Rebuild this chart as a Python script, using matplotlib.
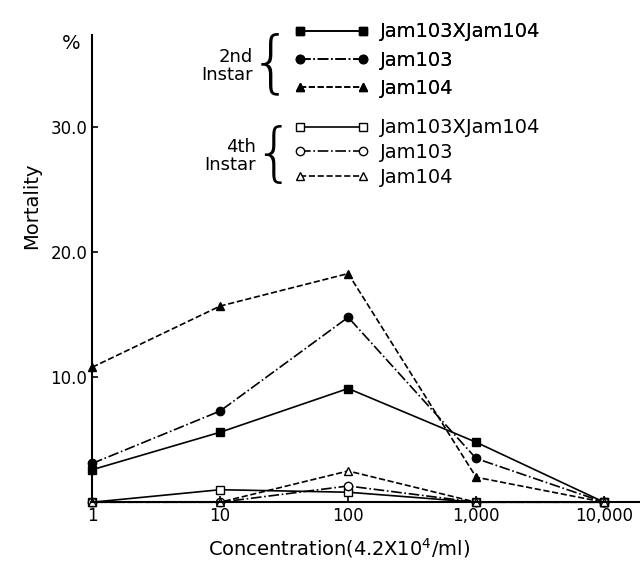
import matplotlib.pyplot as plt

# concentration (x 4.2x10^4 /ml) and mortality (%)
conc = [1, 10, 100, 1000, 10000]
conc_labels = ['1', '10', '100', '1,000', '10,000']

# 2nd instar
l2_cross = [2.6, 5.6, 9.1, 4.8, 0.0]
l2_jam103 = [3.1, 7.3, 14.8, 3.5, 0.0]
l2_jam104 = [10.8, 15.7, 18.3, 2.0, 0.0]

# 4th instar
l4_cross = [0.0, 1.0, 0.8, 0.0, 0.0]
l4_jam103 = [0.0, 0.0, 1.3, 0.0, 0.0]
l4_jam104 = [0.0, 0.0, 2.5, 0.0, 0.0]

y_ticks = [10, 20, 30]
y_tick_labels = ['10.0', '20.0', '30.0']

fig = plt.figure(figsize=(6.4, 5.72), dpi=100)
ax = fig.add_axes([0.144, 0.122, 0.856, 0.817])

kw = dict(color='black', lw=1.2, ms=6, clip_on=False)
h1, = ax.plot(conc, l2_cross, '-', marker='s', label='Jam103XJam104', **kw)
h2, = ax.plot(conc, l2_jam103, '-.', marker='o', label='Jam103', **kw)
h3, = ax.plot(conc, l2_jam104, '--', marker='^', label='Jam104', **kw)
h4, = ax.plot(conc, l4_cross, '-', marker='s', mfc='white', label='Jam103XJam104', **kw)
h5, = ax.plot(conc, l4_jam103, '-.', marker='o', mfc='white', label='Jam103', **kw)
h6, = ax.plot(conc, l4_jam104, '--', marker='^', mfc='white', label='Jam104', **kw)

ax.set_xscale('log')
ax.set_xlim(1, 10 ** 4.28)
ax.set_ylim(0, 37.4)
ax.set_xticks(conc)
ax.set_xticklabels(conc_labels, fontsize=12)
ax.minorticks_off()
ax.set_yticks(y_ticks)
ax.set_yticklabels(y_tick_labels, fontsize=12)
ax.tick_params(direction='in', length=4, width=1.2)
for s in ['top', 'right']:
    ax.spines[s].set_visible(False)
for s in ['left', 'bottom']:
    ax.spines[s].set_linewidth(1.5)

fig.text(0.112, 0.915, '%', fontsize=14, ha='center')
fig.text(0.05, 0.64, 'Mortality', rotation=90, fontsize=14, ha='center', va='center')
fig.text(0.53, 0.03, 'Concentration(4.2X10$^4$/ml)', fontsize=14, ha='center')

leg_kw = dict(frameon=False, loc='upper left', handlelength=3.8, numpoints=2,
              fontsize=14, handletextpad=0.6, borderpad=0)
leg1 = fig.legend(handles=[h1, h2, h3], bbox_to_anchor=(0.445, 0.978),
                  labelspacing=0.48, **leg_kw)
fig.legend(handles=[h4, h5, h6], bbox_to_anchor=(0.445, 0.81),
           labelspacing=0.3, **leg_kw)
fig.add_artist(leg1)

fig.text(0.395, 0.885, '2nd\nInstar', fontsize=13, ha='right', va='center', linespacing=1.0)
fig.text(0.423, 0.885, '{', fontsize=48, ha='center', va='center', fontweight='light')
fig.text(0.4, 0.727, '4th\nInstar', fontsize=13, ha='right', va='center', linespacing=1.0)
fig.text(0.428, 0.727, '{', fontsize=46, ha='center', va='center', fontweight='light')

fig.savefig('out.png', dpi=100)
